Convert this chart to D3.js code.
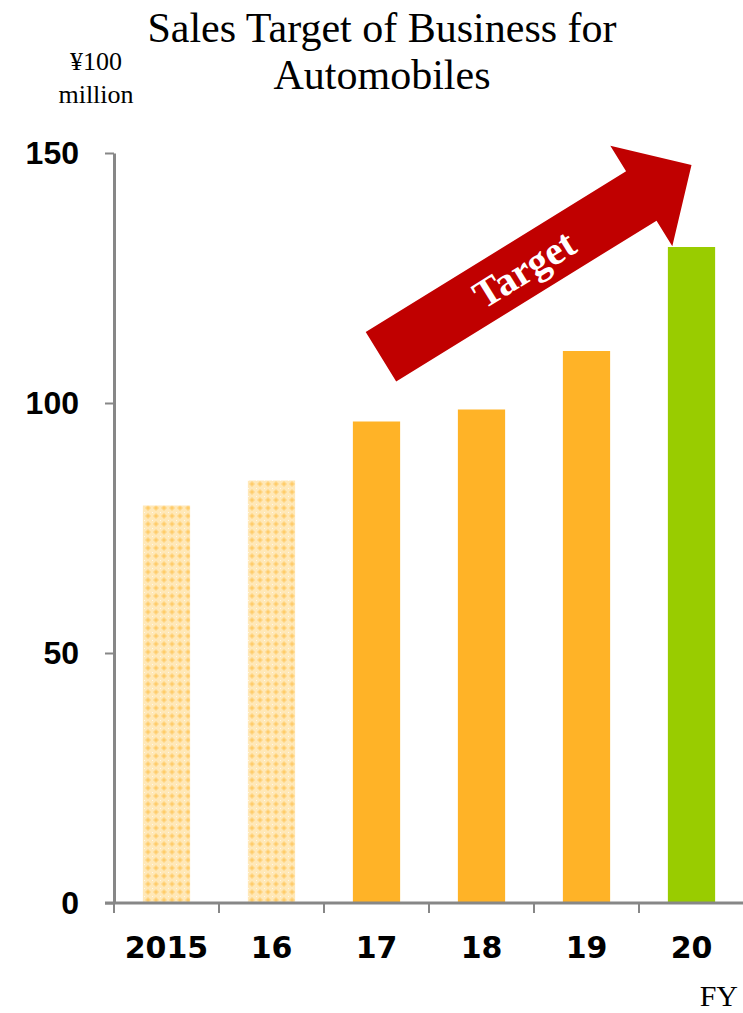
<!DOCTYPE html>
<html>
<head>
<meta charset="utf-8">
<script src="https://cdn.jsdelivr.net/npm/d3@7"></script>
<style>
  html, body { margin: 0; padding: 0; background: #fff; }
  svg { display: block; }
</style>
</head>
<body>
<div id="chart"></div>
<script>
// Sales target chart - automobiles business
const years = ['2015', '16', '17', '18', '19', '20'];
const sales = [79.5, 84.5, 96.3, 98.7, 110.4, 131.2];
const kinds = ['actual', 'actual', 'plan', 'plan', 'plan', 'target'];
const yTicks = [0, 50, 100, 150];
const arrowTipValue = 147.6;

const width = 743, height = 1013;
const svg = d3.select('#chart').append('svg')
    .attr('width', width)
    .attr('height', height);

// lattice fill for the past years
const defs = svg.append('defs');
const pat = defs.append('pattern')
    .attr('id', 'hatch')
    .attr('patternUnits', 'userSpaceOnUse')
    .attr('width', 8).attr('height', 8);
pat.append('rect').attr('width', 8).attr('height', 8).attr('fill', '#ffe8b8');
pat.append('path')
    .attr('d', 'M4,1 L7,4 L4,7 L1,4 Z')
    .attr('fill', '#ffd582');
pat.append('rect').attr('x', 3).attr('y', 3).attr('width', 2).attr('height', 2).attr('fill', '#ffcc6a');
pat.append('rect').attr('x', 0).attr('y', 0).attr('width', 1).attr('height', 1).attr('fill', '#fff8ea');

const x = d3.scaleBand().domain(years).range([114, 744]).padding(0);
const y = d3.scaleLinear().domain([0, 150]).range([903, 153]);
const bw = x.bandwidth();

const fills = { actual: 'url(#hatch)', plan: '#ffb327', target: '#99cc00' };

// bars
svg.append('g')
    .selectAll('rect')
    .data(years)
    .enter().append('rect')
    .attr('x', d => x(d) + bw * 0.275)
    .attr('width', bw * 0.45)
    .attr('y', (d, i) => y(sales[i]))
    .attr('height', (d, i) => y(0) - y(sales[i]))
    .attr('fill', (d, i) => fills[kinds[i]]);

// y axis
const yAxis = svg.append('g')
    .attr('transform', `translate(${x.range()[0]},0)`)
    .call(d3.axisLeft(y).tickValues(yTicks).tickSize(9).tickPadding(26).tickSizeOuter(0));
yAxis.select('.domain').attr('stroke', '#878787').attr('stroke-width', 3);
yAxis.selectAll('.tick line').attr('stroke', '#878787').attr('stroke-width', 2);
yAxis.selectAll('.tick text')
    .attr('fill', '#000')
    .style('font-family', '"Liberation Sans", Arial, sans-serif')
    .style('font-weight', 'bold')
    .style('font-size', '32px');

// x axis line + ticks at band edges
const xg = svg.append('g');
xg.append('line')
    .attr('x1', 105).attr('x2', width)
    .attr('y1', y(0)).attr('y2', y(0))
    .attr('stroke', '#878787').attr('stroke-width', 3);
xg.selectAll('.xtick')
    .data(years)
    .enter().append('line')
    .attr('class', 'xtick')
    .attr('x1', d => x(d)).attr('x2', d => x(d))
    .attr('y1', y(0)).attr('y2', y(0) + 10)
    .attr('stroke', '#878787').attr('stroke-width', 2);
xg.selectAll('.xlabel')
    .data(years)
    .enter().append('text')
    .attr('class', 'xlabel')
    .attr('x', d => x(d) + bw / 2)
    .attr('y', 958)
    .attr('text-anchor', 'middle')
    .style('font-family', '"DejaVu Sans", Verdana, sans-serif')
    .style('font-weight', 'bold')
    .style('font-size', '30px')
    .text(d => d);

const serif = '"Liberation Serif", "Times New Roman", serif';

// title
svg.append('text')
    .attr('x', 382).attr('y', 42)
    .attr('text-anchor', 'middle')
    .style('font-family', serif).style('font-size', '42px')
    .text('Sales Target of Business for');
svg.append('text')
    .attr('x', 382).attr('y', 89)
    .attr('text-anchor', 'middle')
    .style('font-family', serif).style('font-size', '42px')
    .text('Automobiles');

// unit label
svg.append('text')
    .attr('x', 96).attr('y', 70)
    .attr('text-anchor', 'middle')
    .style('font-family', serif).style('font-size', '26px')
    .text('¥100');
svg.append('text')
    .attr('x', 96).attr('y', 103)
    .attr('text-anchor', 'middle')
    .style('font-family', serif).style('font-size', '26px')
    .text('million');

svg.append('text')
    .attr('x', 738).attr('y', 1006)
    .attr('text-anchor', 'end')
    .style('font-family', serif).style('font-size', '30px')
    .text('FY');

// target arrow, drawn along its own axis then rotated
const tipX = x('20') + bw / 2, tipY = y(arrowTipValue);
const angle = -31.7;
const len = 365, headLen = 59, shaftW = 29, headW = 59;
const arrow = svg.append('g')
    .attr('transform', `translate(${tipX},${tipY}) rotate(${angle})`);
arrow.append('path')
    .attr('d', d3.line()([
        [-len, -shaftW], [-headLen, -shaftW], [-headLen, -headW], [0, 0],
        [-headLen, headW], [-headLen, shaftW], [-len, shaftW]
    ]) + 'Z')
    .attr('fill', '#c00000');
arrow.append('text')
    .attr('x', -len + 168)
    .attr('y', 14)
    .attr('text-anchor', 'middle')
    .attr('fill', '#fff')
    .style('font-family', serif)
    .style('font-weight', 'bold')
    .style('font-size', '40px')
    .text('Target');
</script>
</body>
</html>
